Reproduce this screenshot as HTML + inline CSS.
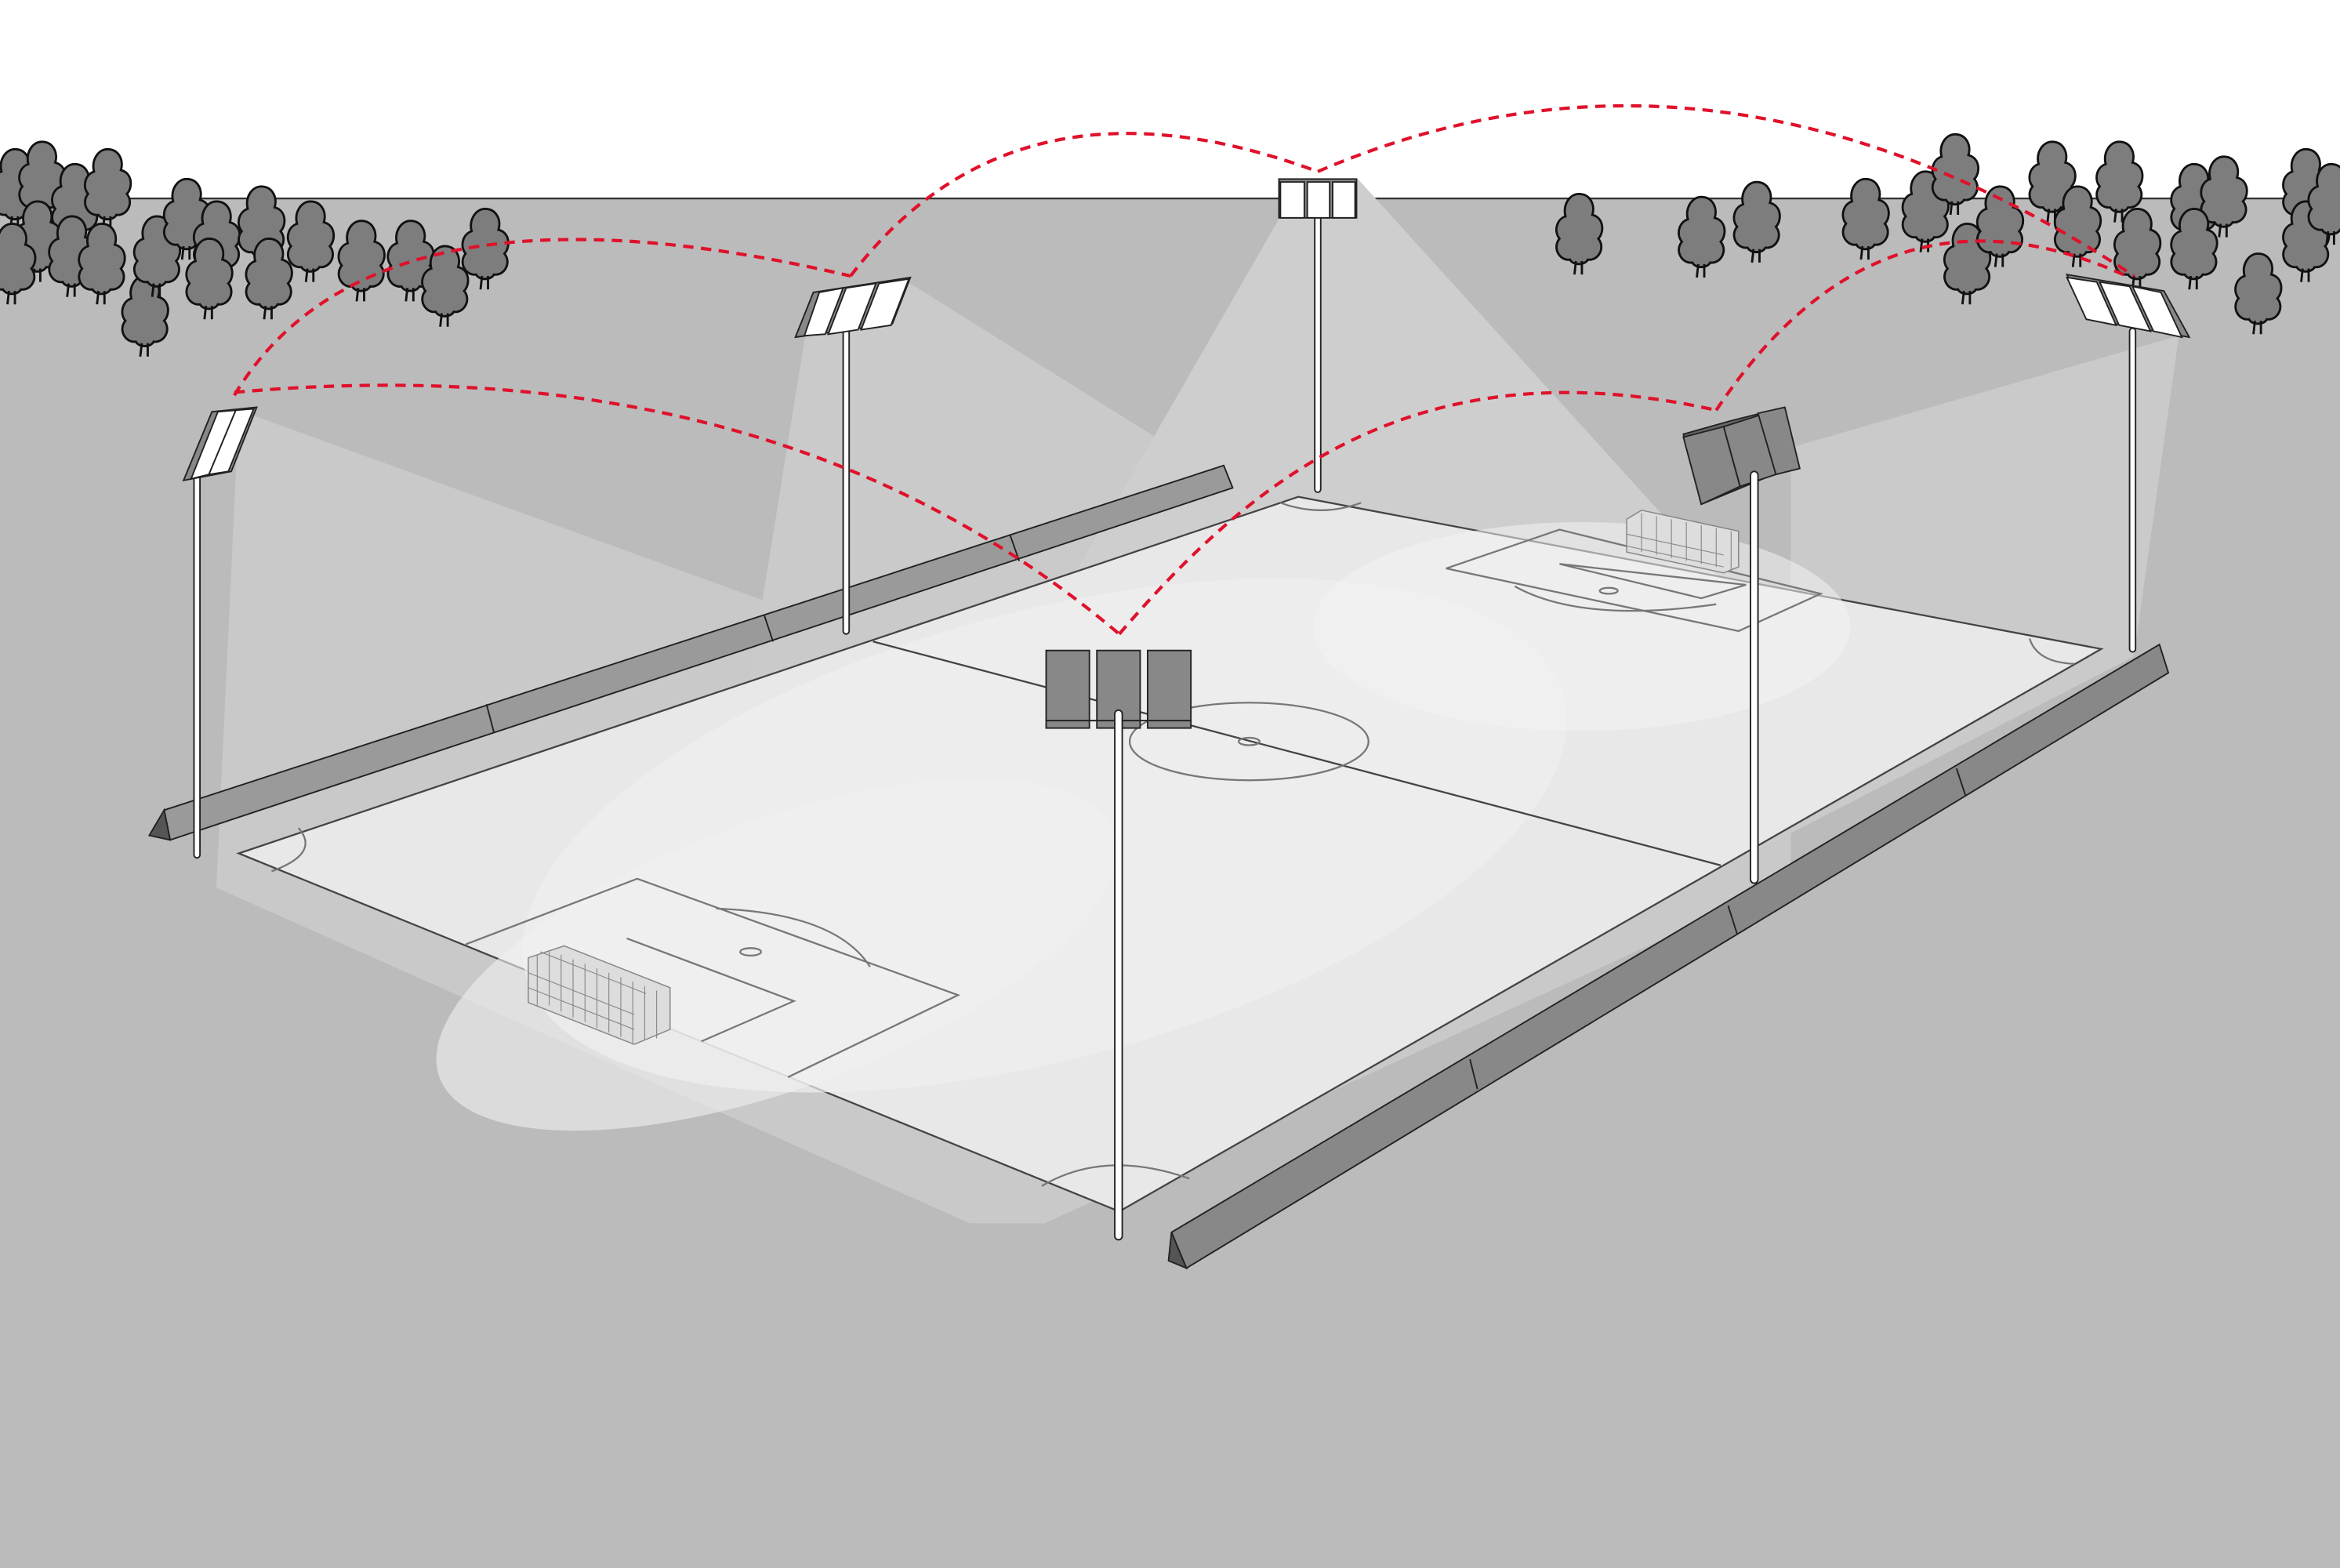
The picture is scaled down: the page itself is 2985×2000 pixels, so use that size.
<!DOCTYPE html>
<html><head><meta charset="utf-8"><style>
html,body{margin:0;padding:0;background:#fff}
svg{display:block}
</style></head><body>
<svg width="2985" height="2000" viewBox="0 0 1568 1051" preserveAspectRatio="none" xmlns="http://www.w3.org/2000/svg">
<defs>
<g id="tree"><path d="M0,-30 C8,-30 11,-22 9,-16 C17,-14 17,-4 13,0 C18,6 13,15 6,14 C4,18 -4,18 -6,14 C-13,15 -18,6 -13,0 C-17,-5 -15,-13 -9,-15 C-11,-23 -6,-30 0,-30Z" fill="#7d7d7d" stroke="#111" stroke-width="1.5"/><path d="M-2,15 L-3,24 M2,15 L2,24" stroke="#111" stroke-width="1.5"/></g>
</defs>
<rect width="1568" height="133" fill="#fff"/>
<rect y="133" width="1568" height="918" fill="#bbb"/>
<line x1="0" y1="133" x2="1568" y2="133" stroke="#333" stroke-width="1.2"/>
<g>
<use href="#tree" x="10" y="130"/><use href="#tree" x="28" y="125"/><use href="#tree" x="50" y="140"/><use href="#tree" x="72" y="130"/>
<use href="#tree" x="25" y="165"/><use href="#tree" x="48" y="175"/><use href="#tree" x="68" y="180"/><use href="#tree" x="8" y="180"/>
<use href="#tree" x="97" y="215"/><use href="#tree" x="105" y="175"/><use href="#tree" x="125" y="150"/><use href="#tree" x="145" y="165"/>
<use href="#tree" x="140" y="190"/><use href="#tree" x="175" y="155"/><use href="#tree" x="180" y="190"/><use href="#tree" x="208" y="165"/>
<use href="#tree" x="242" y="178"/><use href="#tree" x="275" y="178"/><use href="#tree" x="298" y="195"/><use href="#tree" x="325" y="170"/>
<use href="#tree" x="1058" y="160"/><use href="#tree" x="1140" y="162"/><use href="#tree" x="1177" y="152"/><use href="#tree" x="1250" y="150"/>
<use href="#tree" x="1290" y="145"/><use href="#tree" x="1310" y="120"/><use href="#tree" x="1318" y="180"/><use href="#tree" x="1340" y="155"/>
<use href="#tree" x="1375" y="125"/><use href="#tree" x="1392" y="155"/><use href="#tree" x="1420" y="125"/><use href="#tree" x="1432" y="170"/>
<use href="#tree" x="1470" y="140"/><use href="#tree" x="1490" y="135"/><use href="#tree" x="1470" y="170"/><use href="#tree" x="1513" y="200"/>
<use href="#tree" x="1545" y="130"/><use href="#tree" x="1545" y="165"/><use href="#tree" x="1562" y="140"/>
</g>
<path d="M160,275 L560,420 L1200,420 L1200,590 L700,820 L650,820 L145,595 Z" fill="#c9c9c9"/>
<path d="M540,222 L610,190 L1200,560 L1200,300 L1460,225 L1430,440 L1100,610 L600,600 L500,470 Z" fill="#cacaca"/>
<path d="M858,145 L910,120 L1200,440 L700,420 Z" fill="#cecece"/>
<polygon points="160,572 870,333 1408,435 750,812" fill="#e8e8e8" stroke="#444" stroke-width="1.2"/>
<ellipse cx="700" cy="560" rx="360" ry="150" fill="#f0f0f0" opacity="0.7" transform="rotate(-15 700 560)"/>
<ellipse cx="1060" cy="420" rx="180" ry="70" fill="#f2f2f2" opacity="0.55"/>
<ellipse cx="520" cy="640" rx="240" ry="90" fill="#f0f0f0" opacity="0.6" transform="rotate(-20 520 640)"/>
<g fill="none" stroke="#777" stroke-width="1.2">
<line x1="585" y1="430" x2="1153" y2="580" stroke="#444"/>
<ellipse cx="837" cy="497" rx="80" ry="26"/>
<ellipse cx="837" cy="497" rx="7" ry="2.5"/>
<polyline points="312,633 427,589 642,667 528,722"/>
<polyline points="420,629 532,671 470,698"/>
<path d="M480,609 Q560,612 583,648"/>
<ellipse cx="503" cy="638" rx="7" ry="2.5"/>
<polyline points="969,381 1045,355 1220,398 1165,423 969,381"/>
<polyline points="1045,378 1170,392 1140,401 1045,378"/>
<path d="M1015,393 Q1060,418 1150,405"/>
<ellipse cx="1078" cy="396" rx="6" ry="2"/>
<path d="M182,584 Q215,572 200,555"/>
<path d="M698,795 Q740,770 797,790"/>
<path d="M858,337 Q885,347 912,337"/>
<path d="M1360,428 Q1365,444 1390,445"/>
</g>
<g stroke="#888" stroke-width="0.8" fill="#ddd">
<polygon points="354,642 378,634 449,662 449,690 425,700 354,672"/>
<polygon points="1090,348 1100,342 1165,356 1165,380 1155,384 1090,370"/>
</g>
<g stroke="#888" stroke-width="0.6">
<path d="M360,640v34M368,637v37M376,640v38M384,643v39M392,646v39M400,649v40M408,652v40M416,655v40M424,658v42M432,661v36M440,664v32M354,652l71,28M354,662l71,28M362,638l71,28"/>
<path d="M1100,344v26M1110,346v26M1120,348v26M1130,350v26M1140,352v26M1150,354v26M1160,356v26M1090,358l65,14M1090,366l65,14"/>
</g>
<polygon points="110,543 820,312 826,327 114,563" fill="#9a9a9a" stroke="#222" stroke-width="1"/>
<polygon points="110,543 100,560 114,563" fill="#555" stroke="#222"/>
<polygon points="785,826 1447,432 1453,451 795,850" fill="#888" stroke="#222" stroke-width="1"/>
<polygon points="785,826 783,845 795,850" fill="#555" stroke="#222"/>
<g stroke="#222" stroke-width="1"><line x1="326" y1="472" x2="331" y2="491"/><line x1="512" y1="412" x2="518" y2="430"/><line x1="677" y1="359" x2="683" y2="376"/><line x1="985" y1="710" x2="990" y2="730"/><line x1="1158" y1="607" x2="1164" y2="626"/><line x1="1311" y1="515" x2="1317" y2="533"/></g>
<g fill="#fff" stroke="#222" stroke-width="1">
<rect x="130" y="318" width="4" height="257" rx="2"/>
<rect x="565" y="220" width="4" height="205" rx="2"/>
<rect x="881" y="145" width="4" height="185" rx="2"/>
<rect x="1427" y="220" width="4" height="217" rx="2"/>
</g>
<g stroke="#222" stroke-width="1">
<polygon points="142,276 172,273 155,316 123,322" fill="#888"/>
<polygon points="146,276 158,275 140,318 128,321" fill="#fff"/><polygon points="158,275 170,274 153,316 140,318" fill="#fff"/>
<polygon points="545,196 610,186 598,217 533,226" fill="#888"/>
<polygon points="549,196 565,193 553,224 539,225" fill="#fff"/><polygon points="567,193 587,190 575,221 555,224" fill="#fff"/><polygon points="589,190 609,187 597,218 577,221" fill="#fff"/>
<rect x="857" y="120" width="52" height="26" fill="#888"/>
<rect x="858" y="122" width="16" height="24" fill="#fff"/><rect x="876" y="122" width="15" height="24" fill="#fff"/><rect x="893" y="122" width="15" height="24" fill="#fff"/>
<polygon points="1385,184 1450,195 1467,226 1400,214" fill="#888"/>
<polygon points="1385,186 1405,189 1418,218 1398,214" fill="#fff"/><polygon points="1407,189 1427,192 1441,222 1420,218" fill="#fff"/><polygon points="1429,192 1448,196 1462,226 1443,222" fill="#fff"/>
<polygon points="1128,291 1160,282 1192,274 1203,312 1140,338" fill="#666"/>
<polygon points="1128,293 1155,286 1166,326 1140,338" fill="#888"/><polygon points="1155,286 1180,278 1190,318 1166,326" fill="#888"/><polygon points="1178,277 1196,273 1206,314 1190,318" fill="#888"/>
<rect x="701" y="436" width="29" height="52" fill="#888"/><rect x="735" y="436" width="29" height="52" fill="#888"/><rect x="769" y="436" width="29" height="52" fill="#888"/>
<line x1="701" y1="483" x2="798" y2="483"/>
</g>
<g fill="#fff" stroke="#222" stroke-width="1">
<rect x="747" y="476" width="5" height="355" rx="2.5"/>
<rect x="1173" y="316" width="5" height="276" rx="2.5"/>
</g>
<g fill="none" stroke="#e0112b" stroke-width="2.2" stroke-dasharray="7,5">
<path d="M157,265 Q250,110 570,185"/>
<path d="M570,185 Q680,40 883,115"/>
<path d="M883,115 Q1150,0 1430,185"/>
<path d="M157,263 Q520,230 750,425"/>
<path d="M750,425 C840,320 950,230 1150,275"/>
<path d="M1150,275 Q1260,110 1425,185"/>
</g>
</svg>
</body></html>
